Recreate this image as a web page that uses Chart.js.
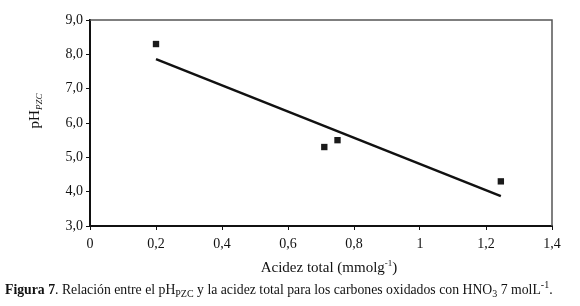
<!DOCTYPE html>
<html>
<head>
<meta charset="utf-8">
<script src="https://cdn.jsdelivr.net/npm/chart.js@4.4.1/dist/chart.umd.min.js"></script>
<style>
    html, body { margin: 0; padding: 0; background: #fff; }
    #wrap { position: relative; width: 580px; height: 306px; }
    #caption {
        position: absolute; left: 5px; top: 279px; white-space: nowrap;
        font-family: "Liberation Serif", "DejaVu Serif", serif; font-size: 13.75px; color: #111;
    }
    #caption sub, #caption sup { font-size: 10px; }
</style>
</head>
<body>
<div id="wrap">
    <canvas id="chart" width="580" height="306"></canvas>
    <div id="caption"><b>Figura 7</b>. Relación entre el pH<sub>PZC</sub> y la acidez total para los carbones oxidados con HNO<sub>3</sub> 7 molL<sup>-1</sup>.</div>
</div>
<script>
// measured points
const acidity = [0.2, 0.71, 0.75, 1.245];
const phPzc = [8.3, 5.3, 5.5, 4.3];
// trend line
const fitX = [0.2, 1.245];
const fitY = [7.86, 3.87];

const serif = '"Liberation Serif", "DejaVu Serif", serif';

const framePlugin = {
    id: 'frame',
    afterDraw(chart) {
        const { ctx, chartArea: a } = chart;
        ctx.save();
        ctx.strokeStyle = '#555';
        ctx.lineWidth = 1.5;
        ctx.beginPath();
        ctx.moveTo(a.left, a.top);
        ctx.lineTo(a.right, a.top);
        ctx.lineTo(a.right, a.bottom);
        ctx.stroke();

        // axis titles with sub/superscripts
        ctx.fillStyle = '#111';
        ctx.textBaseline = 'alphabetic';
        const cx = (a.left + a.right) / 2 + 8;
        ctx.font = '15px ' + serif;
        const t1 = 'Acidez total (mmolg', t2 = '-1', t3 = ')';
        const w1 = ctx.measureText(t1).width, w3 = ctx.measureText(t3).width;
        ctx.font = '9px ' + serif;
        const w2 = ctx.measureText(t2).width;
        let x = cx - (w1 + w2 + w3) / 2;
        const by = 272;
        ctx.font = '15px ' + serif;
        ctx.textAlign = 'left';
        ctx.fillText(t1, x, by);
        ctx.font = '9px ' + serif;
        ctx.fillText(t2, x + w1, by - 6);
        ctx.font = '15px ' + serif;
        ctx.fillText(t3, x + w1 + w2, by);

        ctx.translate(39, 111);
        ctx.rotate(-Math.PI / 2);
        ctx.font = '15px ' + serif;
        const s1 = 'pH', s2 = 'PZC';
        const v1 = ctx.measureText(s1).width;
        ctx.font = 'italic 9px ' + serif;
        const v2 = ctx.measureText(s2).width;
        const sx = -(v1 + v2) / 2;
        ctx.font = '15px ' + serif;
        ctx.fillText(s1, sx, 0);
        ctx.font = 'italic 9px ' + serif;
        ctx.fillText(s2, sx + v1, 3);
        ctx.restore();
    }
};

new Chart(document.getElementById('chart'), {
    type: 'scatter',
    data: {
        datasets: [
            {
                data: acidity.map((v, i) => ({ x: v, y: phPzc[i] })),
                pointStyle: 'rect',
                pointRadius: 4.5,
                backgroundColor: '#1a1a1a',
                borderColor: '#1a1a1a',
                borderWidth: 0
            },
            {
                type: 'line',
                data: fitX.map((v, i) => ({ x: v, y: fitY[i] })),
                borderColor: '#111',
                borderWidth: 2.5,
                pointRadius: 0,
                fill: false
            }
        ]
    },
    options: {
        responsive: false,
        animation: false,
        layout: { padding: { top: 20, right: 28, left: 0, bottom: 0 } },
        plugins: { legend: { display: false }, tooltip: { enabled: false } },
        scales: {
            x: {
                min: 0, max: 1.4,
                afterFit(s) { s.height = 80; },
                border: { color: '#111', width: 2 },
                grid: { drawOnChartArea: false, tickLength: 4, color: '#111' },
                ticks: {
                    stepSize: 0.2, padding: 6, color: '#111',
                    font: { family: serif, size: 14 },
                    callback: v => String(Math.round(v * 10) / 10).replace('.', ',')
                }
            },
            y: {
                min: 3, max: 9,
                afterFit(s) { s.width = 90; },
                border: { color: '#111', width: 2 },
                grid: { drawOnChartArea: false, tickLength: 4, color: '#111' },
                ticks: {
                    stepSize: 1, padding: 3, color: '#111',
                    font: { family: serif, size: 14 },
                    callback: v => v.toFixed(1).replace('.', ',')
                }
            }
        }
    },
    plugins: [framePlugin]
});
</script>
</body>
</html>
